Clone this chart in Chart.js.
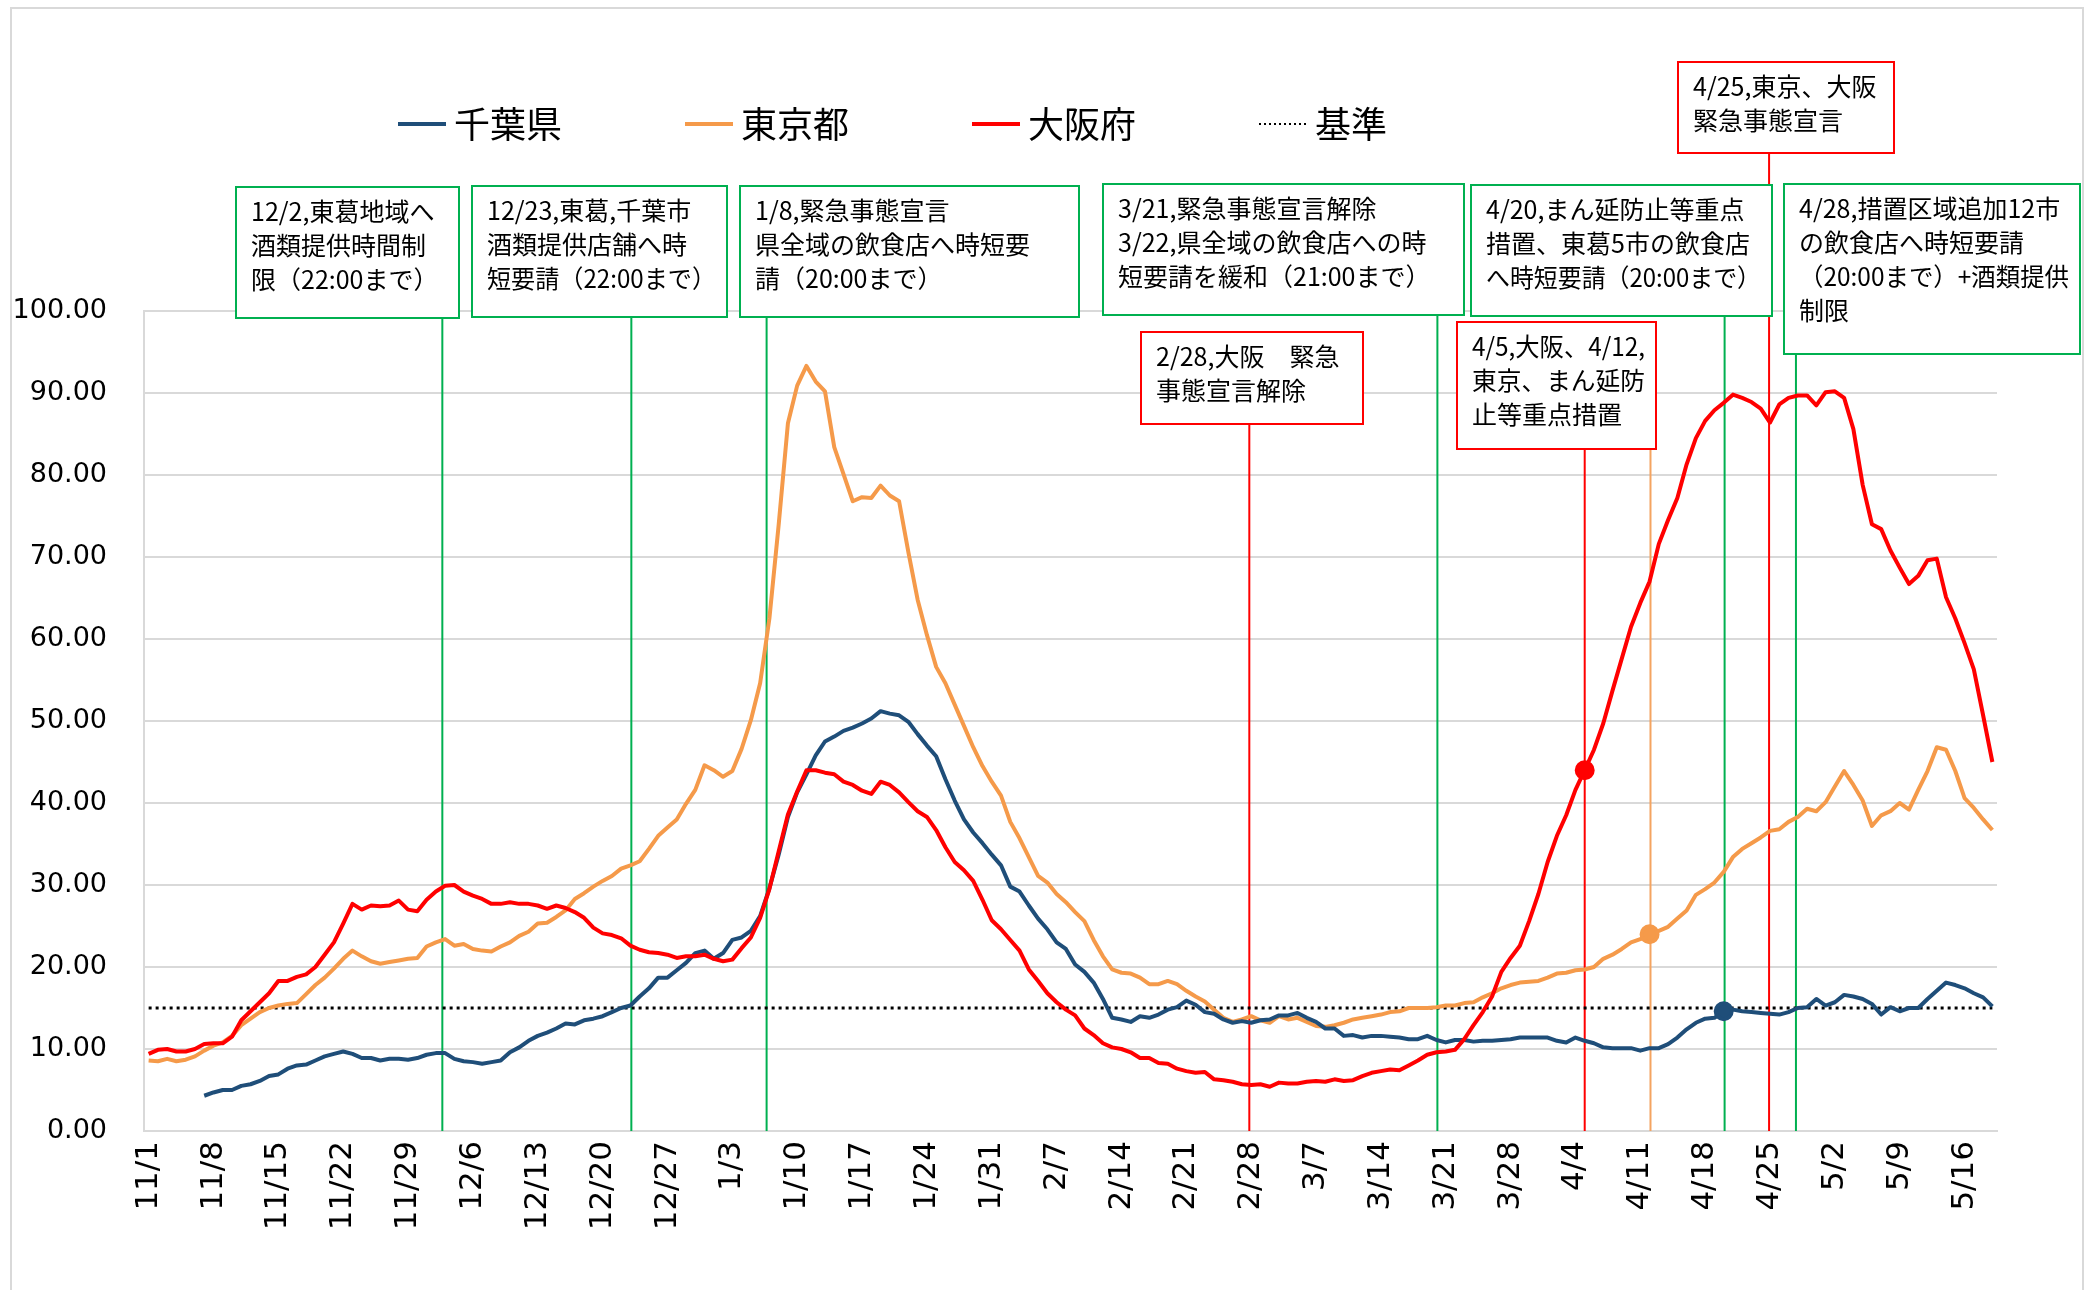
<!DOCTYPE html>
<html lang="ja">
<head>
<meta charset="utf-8">
<title>千葉県・東京都・大阪府</title>
<script src="https://cdn.jsdelivr.net/npm/chart.js@4.4.1/dist/chart.umd.min.js"></script>
<style>
  html, body { margin: 0; padding: 0; background: #fff; }
  #wrap { width: 2094px; height: 1290px; }
</style>
</head>
<body>
<div id="wrap"><canvas id="myChart" width="2094" height="1290"></canvas></div>
<script>
'use strict';

// dates 11/1 .. 5/19 (one category per day)
const monthDays = [[11, 30], [12, 31], [1, 31], [2, 28], [3, 31], [4, 30], [5, 19]];
const dateLabels = [];
monthDays.forEach(([m, n]) => {
  for (let d = 1; d <= n; d++) dateLabels.push(`${m}/${d}`);
});

const yTicks = [0, 10, 20, 30, 40, 50, 60, 70, 80, 90, 100];
const baseLevel = 15;

const chiba = [null, null, null, null, null, null, 4.3, 4.7, 5.0, 5.0,
  5.5, 5.7, 6.1, 6.7, 6.9, 7.6, 8.0, 8.1, 8.6, 9.1,
  9.4, 9.7, 9.4, 8.9, 8.9, 8.6, 8.8, 8.8, 8.7, 8.9,
  9.3, 9.5, 9.5, 8.8, 8.5, 8.4, 8.2, 8.4, 8.6, 9.6,
  10.2, 11.0, 11.6, 12.0, 12.5, 13.1, 13.0, 13.5, 13.7, 14.0,
  14.5, 15.0, 15.3, 16.4, 17.4, 18.7, 18.7, 19.6, 20.5, 21.7,
  22.0, 21.0, 21.7, 23.3, 23.6, 24.4, 26.2, 29.6, 33.7, 38.3,
  41.3, 43.5, 45.8, 47.5, 48.1, 48.8, 49.2, 49.7, 50.3, 51.2,
  50.9, 50.7, 49.9, 48.4, 47.0, 45.7, 42.9, 40.3, 38.0, 36.4,
  35.1, 33.7, 32.4, 29.8, 29.2, 27.5, 25.9, 24.6, 23.0, 22.2,
  20.3, 19.4, 18.1, 16.1, 13.8, 13.6, 13.3, 14.0, 13.8, 14.2,
  14.8, 15.1, 15.9, 15.4, 14.5, 14.3, 13.6, 13.2, 13.4, 13.2,
  13.5, 13.6, 14.1, 14.1, 14.4, 13.8, 13.3, 12.5, 12.5, 11.6,
  11.7, 11.4, 11.6, 11.6, 11.5, 11.4, 11.2, 11.2, 11.6, 11.1,
  10.8, 11.1, 11.1, 10.9, 11.0, 11.0, 11.1, 11.2, 11.4, 11.4,
  11.4, 11.4, 11.0, 10.8, 11.4, 11.0, 10.7, 10.2, 10.1, 10.1,
  10.1, 9.8, 10.1, 10.1, 10.6, 11.4, 12.4, 13.2, 13.7, 13.8,
  14.6, 14.8, 14.6, 14.5, 14.4, 14.3, 14.2, 14.5, 15.0, 15.1,
  16.1, 15.3, 15.7, 16.6, 16.4, 16.1, 15.5, 14.2, 15.1, 14.6,
  15.0, 15.0, 16.1, 17.1, 18.1, 17.8, 17.4, 16.8, 16.3, 15.2];

const tokyo = [8.6, 8.5, 8.8, 8.5, 8.7, 9.1, 9.8, 10.4, 10.8, 11.6,
  12.9, 13.7, 14.5, 15.0, 15.3, 15.5, 15.6, 16.7, 17.8, 18.7,
  19.8, 21.0, 22.0, 21.3, 20.7, 20.4, 20.6, 20.8, 21.0, 21.1,
  22.5, 23.0, 23.4, 22.6, 22.8, 22.2, 22.0, 21.9, 22.5, 23.0,
  23.8, 24.3, 25.3, 25.4, 26.1, 26.9, 28.3, 29.0, 29.8, 30.5,
  31.1, 32.0, 32.4, 32.9, 34.4, 36.0, 37.0, 38.0, 39.9, 41.6,
  44.6, 44.0, 43.2, 43.9, 46.6, 50.1, 54.6, 62.5, 73.9, 86.3,
  90.9, 93.3, 91.4, 90.2, 83.4, 80.1, 76.8, 77.3, 77.2, 78.7,
  77.5, 76.8, 70.6, 64.8, 60.5, 56.6, 54.6, 52.0, 49.4, 46.8,
  44.5, 42.6, 40.9, 37.7, 35.7, 33.4, 31.1, 30.3, 28.9, 27.9,
  26.7, 25.6, 23.3, 21.3, 19.7, 19.3, 19.2, 18.7, 17.9, 17.9,
  18.3, 17.9, 17.1, 16.4, 15.8, 14.8, 13.8, 13.3, 13.6, 14.0,
  13.5, 13.2, 14.0, 13.6, 13.8, 13.3, 12.8, 12.7, 12.9, 13.2,
  13.6, 13.8, 14.0, 14.2, 14.5, 14.6, 15.0, 15.0, 15.0, 15.1,
  15.3, 15.3, 15.6, 15.7, 16.3, 16.8, 17.4, 17.8, 18.1, 18.2,
  18.3, 18.7, 19.2, 19.3, 19.6, 19.7, 20.0, 21.0, 21.5, 22.2,
  23.0, 23.4, 24.0, 24.4, 24.9, 25.9, 26.9, 28.8, 29.5, 30.3,
  31.6, 33.4, 34.4, 35.1, 35.8, 36.6, 36.8, 37.7, 38.3, 39.3,
  39.0, 40.1, 42.0, 43.9, 42.2, 40.3, 37.2, 38.5, 39.0, 40.0,
  39.2, 41.6, 43.9, 46.8, 46.5, 43.9, 40.6, 39.4, 38.0, 36.7];

const osaka = [9.4, 9.9, 10.0, 9.7, 9.7, 10.0, 10.6, 10.7, 10.7, 11.5,
  13.5, 14.6, 15.7, 16.8, 18.3, 18.3, 18.8, 19.1, 20.0, 21.5,
  23.0, 25.3, 27.7, 27.0, 27.5, 27.4, 27.5, 28.1, 27.0, 26.8,
  28.2, 29.2, 29.9, 30.0, 29.2, 28.7, 28.3, 27.7, 27.7, 27.9,
  27.7, 27.7, 27.5, 27.1, 27.5, 27.2, 26.7, 26.0, 24.8, 24.1,
  23.9, 23.5, 22.6, 22.1, 21.8, 21.7, 21.5, 21.1, 21.3, 21.3,
  21.5, 21.0, 20.7, 20.9, 22.3, 23.6, 26.0, 29.5, 34.1, 38.6,
  41.4, 44.0, 44.0, 43.7, 43.5, 42.6, 42.2, 41.5, 41.1, 42.6,
  42.2, 41.3, 40.1, 39.0, 38.3, 36.7, 34.6, 32.8, 31.8, 30.5,
  28.2, 25.7, 24.6, 23.3, 22.0, 19.7, 18.3, 16.8, 15.7, 14.8,
  14.1, 12.5, 11.7, 10.7, 10.2, 10.0, 9.6, 8.9, 8.9, 8.3,
  8.2, 7.6, 7.3, 7.1, 7.2, 6.3, 6.2, 6.0, 5.7, 5.6,
  5.7, 5.4, 5.9, 5.8, 5.8, 6.0, 6.1, 6.0, 6.3, 6.1,
  6.2, 6.7, 7.1, 7.3, 7.5, 7.4, 8.0, 8.6, 9.3, 9.6,
  9.7, 9.9, 11.2, 12.9, 14.5, 16.4, 19.4, 21.1, 22.6, 25.6,
  28.9, 32.8, 36.0, 38.5, 41.6, 44.0, 46.5, 49.7, 53.7, 57.6,
  61.5, 64.4, 67.0, 71.6, 74.5, 77.2, 81.3, 84.5, 86.6, 87.9,
  88.8, 89.8, 89.4, 88.9, 88.1, 86.4, 88.6, 89.4, 89.7, 89.7,
  88.5, 90.1, 90.2, 89.4, 85.6, 78.8, 74.0, 73.4, 70.8, 68.7,
  66.7, 67.7, 69.6, 69.8, 65.1, 62.5, 59.5, 56.3, 50.7, 45.0];

// highlighted points (date on which a marker sits)
const chibaMark = '4/20';
const tokyoMark = '4/12';
const osakaMark = '4/5';

const GREEN = '#00b050';
const RED = '#ff0000';
const ORANGE = '#f4a460';

// event lines: date, small nudge (in days) as drawn in the original, colour, top of line
const events = [
  {date: '12/2', nudge: 0.7, color: GREEN, top: 318},
  {date: '12/23', nudge: 0.1, color: GREEN, top: 317},
  {date: '1/8', nudge: -1.3, color: GREEN, top: 317},
  {date: '2/28', nudge: -0.2, color: RED, top: 424},
  {date: '3/21', nudge: -0.9, color: GREEN, top: 315},
  {date: '4/5', nudge: 0, color: RED, top: 449},
  {date: '4/12', nudge: 0.1, color: ORANGE, top: 449},
  {date: '4/20', nudge: 0.1, color: GREEN, top: 316},
  {date: '4/25', nudge: -0.1, color: RED, top: 153},
  {date: '4/28', nudge: -0.2, color: GREEN, top: 354}
];

// call-out boxes: [x, y, w, h]
const notes = [
  {box: [236, 187, 223, 131], color: GREEN, lines: ['12/2,東葛地域へ', '酒類提供時間制', '限（22:00まで）']},
  {box: [472, 186, 255, 131], color: GREEN, lines: ['12/23,東葛,千葉市', '酒類提供店舗へ時', '短要請（22:00まで）']},
  {box: [740, 186, 339, 131], color: GREEN, lines: ['1/8,緊急事態宣言', '県全域の飲食店へ時短要', '請（20:00まで）']},
  {box: [1103, 184, 361, 131], color: GREEN, lines: ['3/21,緊急事態宣言解除', '3/22,県全域の飲食店への時', '短要請を緩和（21:00まで）']},
  {box: [1471, 185, 301, 131], color: GREEN, lines: ['4/20,まん延防止等重点', '措置、東葛5市の飲食店', 'へ時短要請（20:00まで）']},
  {box: [1784, 184, 296, 170], color: GREEN, lines: ['4/28,措置区域追加12市', 'の飲食店へ時短要請', '（20:00まで）+酒類提供', '制限']},
  {box: [1678, 62, 216, 91], color: RED, lines: ['4/25,東京、大阪', '緊急事態宣言']},
  {box: [1141, 332, 222, 92], color: RED, lines: ['2/28,大阪　緊急', '事態宣言解除']},
  {box: [1457, 322, 199, 127], color: RED, lines: ['4/5,大阪、4/12,', '東京、まん延防', '止等重点措置']}
];

const JP = '"Noto Sans CJK JP", "Noto Sans", sans-serif';

function markAt(date, r) {
  const idx = dateLabels.indexOf(date);
  return (c) => (c.dataIndex === idx ? r : 0);
}

const bgPlugin = {
  id: 'bg',
  beforeDraw(chart) {
    const ctx = chart.ctx;
    ctx.save();
    ctx.fillStyle = '#fff';
    ctx.fillRect(0, 0, chart.width, chart.height);
    ctx.strokeStyle = '#d9d9d9';
    ctx.lineWidth = 2;
    ctx.strokeRect(11, 8, 2072, 1300);
    ctx.restore();
  }
};

const eventPlugin = {
  id: 'events',
  beforeDatasetsDraw(chart) {
    const {ctx, chartArea, scales} = chart;
    ctx.save();
    ctx.lineWidth = 2;
    events.forEach(ev => {
      const px = scales.x.getPixelForValue(dateLabels.indexOf(ev.date) + ev.nudge);
      ctx.strokeStyle = ev.color;
      ctx.beginPath();
      ctx.moveTo(px, ev.top);
      ctx.lineTo(px, chartArea.bottom);
      ctx.stroke();
    });
    ctx.restore();
  },
  afterDraw(chart) {
    const ctx = chart.ctx;
    ctx.save();
    ctx.font = '25px ' + JP;
    ctx.textBaseline = 'middle';
    notes.forEach(n => {
      const [bx, by, bw, bh] = n.box;
      ctx.fillStyle = '#fff';
      ctx.fillRect(bx, by, bw, bh);
      ctx.strokeStyle = n.color;
      ctx.lineWidth = 2;
      ctx.strokeRect(bx, by, bw, bh);
      ctx.fillStyle = '#000';
      n.lines.forEach((t, k) => {
        ctx.fillText(t, bx + 15, by + 24 + k * 34, bw - 26);
      });
    });
    ctx.restore();
  }
};

const legendPlugin = {
  id: 'topLegend',
  afterDraw(chart) {
    const ctx = chart.ctx;
    ctx.save();
    ctx.font = '36px ' + JP;
    ctx.textBaseline = 'middle';
    let x = 398;
    const y = 124;
    chart.data.datasets.forEach(ds => {
      const dashed = ds.borderDash && ds.borderDash.length;
      ctx.strokeStyle = ds.borderColor;
      ctx.lineWidth = dashed ? 2 : 4;
      ctx.setLineDash(dashed ? [2, 3] : []);
      ctx.beginPath();
      ctx.moveTo(x, y);
      ctx.lineTo(x + 48, y);
      ctx.stroke();
      ctx.setLineDash([]);
      ctx.fillStyle = '#000';
      ctx.fillText(ds.label, x + 56, y);
      x += 56 + ctx.measureText(ds.label).width + 123;
    });
    ctx.restore();
  }
};

const data = {
  labels: dateLabels,
  datasets: [
    {
      label: '千葉県',
      data: chiba,
      borderColor: '#1f4e79',
      backgroundColor: '#1f4e79',
      borderWidth: 4,
      pointRadius: markAt(chibaMark, 8),
      order: 1
    },
    {
      label: '東京都',
      data: tokyo,
      borderColor: '#f59a4a',
      backgroundColor: '#f59a4a',
      borderWidth: 4,
      pointRadius: markAt(tokyoMark, 8),
      order: 2
    },
    {
      label: '大阪府',
      data: osaka,
      borderColor: '#ff0000',
      backgroundColor: '#ff0000',
      borderWidth: 4,
      pointRadius: markAt(osakaMark, 8),
      order: 0
    },
    {
      label: '基準',
      data: dateLabels.map(() => baseLevel),
      borderColor: '#000',
      backgroundColor: '#000',
      borderWidth: 3,
      borderDash: [3, 4],
      pointRadius: 0,
      order: 3
    }
  ]
};

const config = {
  type: 'line',
  data: data,
  options: {
    responsive: false,
    animation: false,
    devicePixelRatio: 1,
    layout: {padding: {top: 311, left: 10, right: 97, bottom: 19}},
    elements: {
      line: {tension: 0, fill: false, borderJoinStyle: 'round'},
      point: {borderWidth: 0, hoverRadius: 0}
    },
    plugins: {
      legend: {display: false},
      tooltip: {enabled: false}
    },
    scales: {
      x: {
        offset: true,
        grid: {display: false, drawTicks: false},
        border: {display: true, color: '#d9d9d9', width: 2},
        afterFit(scale) { scale.height = 140; },
        ticks: {
          autoSkip: false,
          minRotation: 90,
          maxRotation: 90,
          padding: 10,
          color: '#000',
          font: {family: '"DejaVu Sans", sans-serif', size: 31},
          callback(val, idx) { return idx % 7 === 0 ? this.getLabelForValue(val) : ''; }
        }
      },
      y: {
        min: yTicks[0],
        max: yTicks[yTicks.length - 1],
        afterFit(scale) { scale.width = 134; },
        afterBuildTicks(scale) { scale.ticks = yTicks.map(v => ({value: v})); },
        grid: {color: '#d9d9d9', lineWidth: 2, drawTicks: false},
        border: {display: true, color: '#d9d9d9', width: 2},
        ticks: {
          padding: 37,
          color: '#000',
          font: {family: '"DejaVu Sans", sans-serif', size: 27},
          callback(v) { return Number(v).toFixed(2); }
        }
      }
    }
  },
  plugins: [bgPlugin, eventPlugin, legendPlugin]
};

const myChart = new Chart(document.getElementById('myChart'), config);
</script>
</body>
</html>
